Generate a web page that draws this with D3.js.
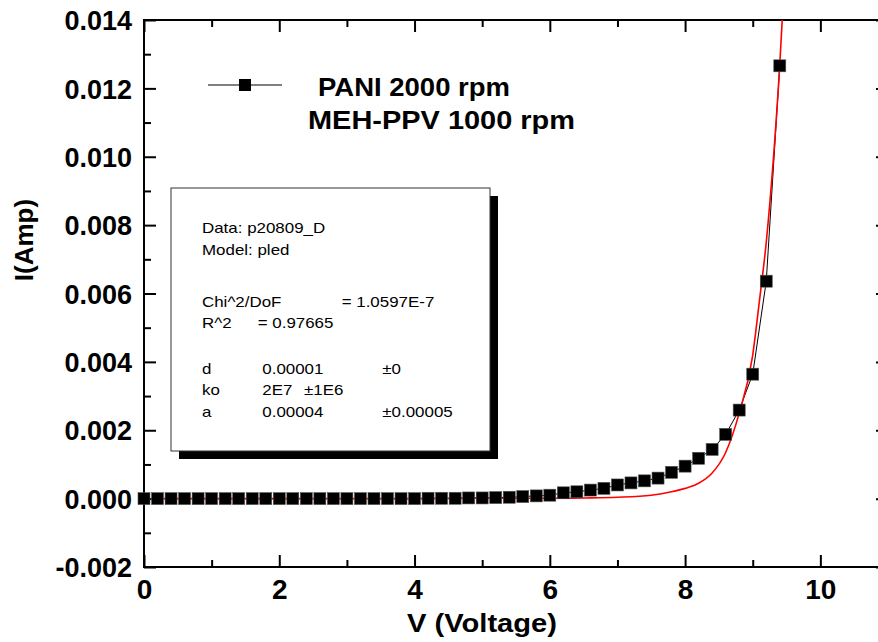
<!DOCTYPE html>
<html><head><meta charset="utf-8">
<script src="https://cdn.jsdelivr.net/npm/d3@7"></script>
<style>html,body{margin:0;padding:0;background:#fff;}svg{display:block;font-family:"Liberation Sans",Arial,sans-serif;}</style>
</head><body>
<svg id="c" width="878" height="642"></svg>
<script>
const voltage = [0,0.2,0.4,0.6,0.8,1.0,1.2,1.4,1.6,1.8,2.0,2.2,2.4,2.6,2.8,3.0,3.2,3.4,3.6,3.8,4.0,
  4.2,4.4,4.6,4.8,5.0,5.2,5.4,5.6,5.8,6.0,6.2,6.4,6.6,6.8,7.0,7.2,7.4,7.6,7.8,8.0,8.2,8.4,8.6,8.8,9.0,9.2,9.4];
const current = [0,0,0,0,0,0,0,0,0,0,0,0,0,0,0,0,0,0,0,0,0,
  0.00001,0.00001,0.00001,0.00002,0.00002,0.00003,0.00004,0.00006,0.00008,0.0001,0.00017,0.0002,0.00025,0.0003,
  0.0004,0.00046,0.00052,0.0006,0.00077,0.00095,0.00118,0.00144,0.00188,0.00259,0.00364,0.00636,0.01266];
const fitV = [0.2,1,2,3,4,5,6,6.5,7,7.5,7.8,8.0,8.2,8.4,8.6,8.8,9.0,9.1,9.2,9.3,9.4,9.45];
const fitI = [0,0,0,0,0,0.00001,0.00001,0.00002,0.00004,0.0001,0.0002,0.0003,0.00045,0.00075,0.00135,0.0025,0.0042,0.0058,0.0075,0.0098,0.0127,0.0145];
const xMajor = [0,2,4,6,8,10];
const xMinor = [1,3,5,7,9];
const yMajor = [-0.002,0,0.002,0.004,0.006,0.008,0.010,0.012,0.014];
const yMinor = [-0.001,0.001,0.003,0.005,0.007,0.009,0.011,0.013];
const legendLines = ["PANI 2000 rpm","MEH-PPV 1000 rpm"];
const xTitle = "V (Voltage)";
const yTitle = "I(Amp)";
const boxRows = [
  ["Data: p20809_D"],["Model: pled"],[],
  ["Chi^2/DoF","= 1.0597E-7"],["R^2","=  0.97665"],[],
  ["d","0.00001","±0"],["ko","2E7","±1E6"],["a","0.00004","±0.00005"]
];

const svg = d3.select("#c");
const x = d3.scaleLinear().domain([0,11]).range([144,888]);
const y = d3.scaleLinear().domain([-0.002,0.014]).range([567,20]);
const FF = '"Liberation Sans",Arial,sans-serif';

svg.append("defs").append("clipPath").attr("id","clip").append("rect")
  .attr("x",x(0)).attr("y",y(0.014)).attr("width",x(11)-x(0)).attr("height",y(-0.002)-y(0.014));

// text box with shadow
const bx=171, by=188, bw=319, bh=263;
svg.append("rect").attr("x",bx+8).attr("y",by+8).attr("width",bw).attr("height",bh).attr("fill","#000");
svg.append("rect").attr("x",bx).attr("y",by).attr("width",bw).attr("height",bh).attr("fill","#fff").attr("stroke","#333").attr("stroke-width",1);
const tg = svg.append("g").attr("transform","translate(202,0) scale(1.21,1)");
const colX = [0, (262.3-202)/1.21, (382.3-202)/1.21];
const rowY = [233,255,0,307,328.5,0,374,395.5,417];
boxRows.forEach((r,i)=>{
  r.forEach((t,j)=>{
    let cx = colX[j];
    if(i===3 && j===1) cx=(341.7-202)/1.21;
    if(i===4 && j===1) cx=(257.7-202)/1.21;
    if(i===7 && j===2) cx=(304-202)/1.21;
    tg.append("text").attr("x",cx).attr("y",rowY[i]).attr("font-size",14).attr("fill","#000").text(t);
  });
});

// axes
function axisG(gen, tr){ const g=svg.append("g").attr("transform",tr).call(gen); g.select(".domain").remove(); g.selectAll("line").attr("stroke","#000").attr("stroke-width",2); return g;}
axisG(d3.axisBottom(x).tickValues(xMinor).tickSize(-7).tickFormat(""),`translate(0,${y(-0.002)})`);
const gxb = axisG(d3.axisBottom(x).tickValues(xMajor).tickSize(-12).tickPadding(12).tickFormat(d=>String(d)),`translate(0,${y(-0.002)})`);
axisG(d3.axisTop(x).tickValues(xMinor).tickSize(-7).tickFormat(""),`translate(0,${y(0.014)})`);
axisG(d3.axisTop(x).tickValues(xMajor).tickSize(-12).tickFormat(""),`translate(0,${y(0.014)})`);
axisG(d3.axisLeft(y).tickValues(yMinor).tickSize(-7).tickFormat(""),`translate(${x(0)},0)`);
const gyl = axisG(d3.axisLeft(y).tickValues(yMajor).tickSize(-12).tickPadding(12).tickFormat(d=>d.toFixed(3)),`translate(${x(0)},0)`);
axisG(d3.axisRight(y).tickValues(yMinor).tickSize(-7).tickFormat(""),`translate(${x(11)},0)`);
axisG(d3.axisRight(y).tickValues(yMajor).tickSize(-12).tickFormat(""),`translate(${x(11)},0)`);
gxb.selectAll("text").attr("font-family",FF).attr("font-weight","bold").attr("font-size",28).attr("fill","#000").attr("dy","0.71em");
gyl.selectAll("text").attr("font-family",FF).attr("font-weight","bold").attr("font-size",27).attr("fill","#000").attr("dy","0.36em");

// frame
svg.append("rect").attr("x",x(0)).attr("y",y(0.014)).attr("width",x(11)-x(0)).attr("height",y(-0.002)-y(0.014))
  .attr("fill","none").attr("stroke","#000").attr("stroke-width",2);

const plot = svg.append("g").attr("clip-path","url(#clip)");
const data = voltage.map((v,i)=>({v,c:current[i]}));
plot.append("path").datum(data).attr("fill","none").attr("stroke","#000").attr("stroke-width",1)
  .attr("d",d3.line().x(d=>x(d.v)).y(d=>y(d.c)));
svg.append("g").selectAll("rect").data(data).join("rect")
  .attr("x",d=>x(d.v)-6).attr("y",d=>y(d.c)-6).attr("width",12).attr("height",12)
  .attr("fill","#000").attr("stroke","#555").attr("stroke-width",0.6);
const fit = fitV.map((v,i)=>({v,c:fitI[i]}));
plot.append("path").datum(fit).attr("fill","none").attr("stroke","#ff0000").attr("stroke-width",1.6)
  .attr("d",d3.line().curve(d3.curveMonotoneX).x(d=>x(d.v)).y(d=>y(d.c)));

// legend
svg.append("line").attr("x1",208).attr("x2",282).attr("y1",85).attr("y2",85).attr("stroke","#000").attr("stroke-width",1);
svg.append("rect").attr("x",239).attr("y",79).attr("width",12).attr("height",12).attr("fill","#000");
svg.append("text").attr("x",318).attr("y",96).attr("font-size",25).attr("font-weight","bold").attr("textLength",192).attr("lengthAdjust","spacingAndGlyphs").text(legendLines[0]);
svg.append("text").attr("x",308).attr("y",129).attr("font-size",25).attr("font-weight","bold").attr("textLength",267).attr("lengthAdjust","spacingAndGlyphs").text(legendLines[1]);

// titles
svg.append("text").attr("x",482).attr("y",632).attr("text-anchor","middle").attr("font-size",26).attr("font-weight","bold").attr("textLength",150).attr("lengthAdjust","spacingAndGlyphs").text(xTitle);
svg.append("text").attr("transform","translate(33,240) rotate(-90)").attr("text-anchor","middle").attr("font-size",26).attr("font-weight","bold").text(yTitle);
</script>
</body></html>
